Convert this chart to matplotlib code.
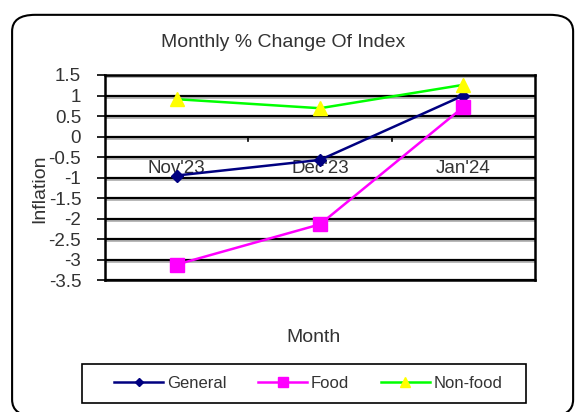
import matplotlib.pyplot as plt
from matplotlib.patches import FancyBboxPatch, Rectangle

plt.rcParams['font.family'] = ['Liberation Sans', 'DejaVu Sans']

months = ["Nov'23", "Dec'23", "Jan'24"]
general = [-0.95, -0.57, 1.0]
food = [-3.12, -2.14, 0.72]
nonfood = [0.91, 0.69, 1.26]
yticks = [1.5, 1, 0.5, 0, -0.5, -1, -1.5, -2, -2.5, -3, -3.5]

fig = plt.figure(figsize=(5.76, 4.12), dpi=100)

# rounded outer frame
frame = FancyBboxPatch((0.021, -0.01), 0.974, 0.974, boxstyle="round,pad=0,rounding_size=0.04",
                       transform=fig.transFigure, facecolor='none', edgecolor='black',
                       linewidth=1.5, zorder=0)
fig.patches.append(frame)

ax = fig.add_axes([0.182, 0.320, 0.747, 0.498])
x = range(len(months))

# gridlines with grey shadow
for v in yticks:
    ax.axhline(v - 0.055, color='#b8b8b8', lw=1.4, zorder=1)
    ax.axhline(v, color='black', lw=1.6, zorder=1)

ax.plot(x, general, color='#000080', marker='D', markersize=6, lw=1.8, label='General', zorder=3)
ax.plot(x, food, color='#ff00ff', marker='s', markersize=10, lw=1.8, label='Food', zorder=3)
ax.plot(x, nonfood, color='#00ff00', marker='^', markersize=10, lw=1.8,
        markerfacecolor='#ffff00', markeredgecolor='#ffff00', label='Non-food', zorder=3)

ax.set_xlim(-0.5, len(months) - 0.5)
ax.set_ylim(-3.5, 1.5)
ax.set_yticks(yticks)
ax.set_yticklabels([f"{v:g}" for v in yticks], fontsize=13.5, color='#333333')
ax.tick_params(axis='y', length=6, width=1.2, pad=11)
ax.set_xticks([])

# category axis crosses at zero
for b in [0.5, 1.5]:
    ax.plot([b, b], [0, -0.12], color='black', lw=1.2, zorder=2)
for i, m in enumerate(months):
    ax.text(i, -0.78, m, ha='center', va='center', fontsize=13.5, color='#333333', zorder=2)

for s in ax.spines.values():
    s.set_linewidth(1.8)

fig.text(0.069, 0.541, 'Inflation', rotation=90, ha='center', va='center', fontsize=14, color='#333333')
fig.text(0.491, 0.898, 'Monthly % Change Of Index', ha='center', va='center', fontsize=14, color='#333333')
fig.text(0.545, 0.18, 'Month', ha='center', va='center', fontsize=14, color='#333333')

# legend box drawn separately so its padding matches
fig.patches.append(Rectangle((0.142, 0.022), 0.771, 0.094, transform=fig.transFigure,
                             facecolor='none', edgecolor='black', lw=1.2))
leg = fig.legend(loc='center', bbox_to_anchor=(0.5356, 0.069), ncol=3, fontsize=12, frameon=False,
                 handlelength=2.9, handletextpad=0.25, columnspacing=1.92, markerscale=0.7)
for t in leg.get_texts():
    t.set_color('#333333')

fig.savefig('out.png', dpi=100)
